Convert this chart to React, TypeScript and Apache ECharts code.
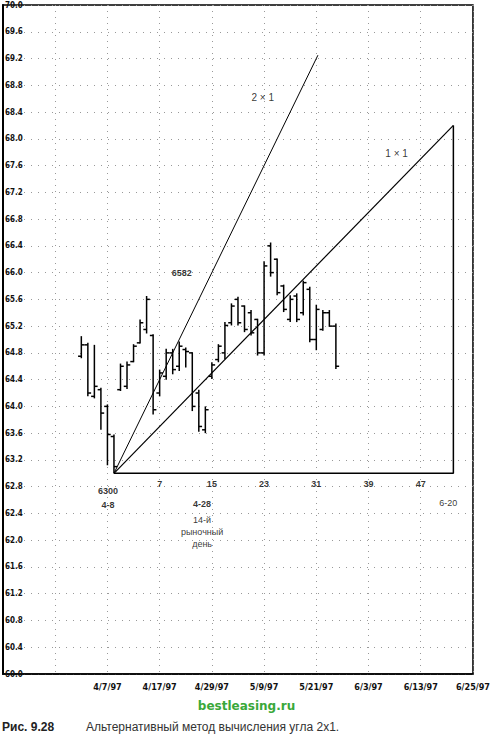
import React, { useEffect, useRef } from 'react';
import * as echarts from 'echarts';

// trading days counted from 4/7/97 (= 0); 4/8/97 (= 1) is the 63.00 low
const tradingDay = [-4, -3, -2, -1, 0, 1, 2, 3, 4, 5, 6, 7, 8, 9, 10, 11, 12, 13, 14, 15, 16, 17, 18, 19, 20, 21, 22, 23, 24, 25, 26, 27, 28, 29, 30, 31, 32, 33, 34, 35];
const openP = [64.75, 64.92, 64.15, 64.25, 64.0, 63.55, 64.25, 64.3, 64.67, 64.95, 65.15, 65.06, 64.2, 64.45, 64.8, 64.6, 64.85, 64.8, 64.2, 63.65, 64.45, 64.7, 64.8, 65.25, 65.6, 65.5, 65.4, 65.3, 64.8, 66.4, 66.2, 65.8, 65.3, 65.65, 65.4, 65.75, 65.0, 65.15, 65.4, 65.2];
const highP = [65.05, 64.95, 64.92, 64.28, 64.03, 63.58, 64.64, 64.67, 64.93, 65.3, 65.65, 65.08, 64.55, 64.86, 64.86, 64.97, 64.88, 64.81, 64.25, 64.0, 64.66, 64.93, 65.26, 65.54, 65.64, 65.51, 65.44, 65.31, 66.17, 66.45, 66.21, 65.82, 65.66, 65.69, 65.88, 65.79, 65.52, 65.44, 65.44, 65.24];
const lowP = [64.72, 64.15, 64.12, 63.65, 63.12, 63.0, 64.23, 64.26, 64.66, 64.94, 65.09, 63.88, 64.15, 64.4, 64.48, 64.53, 64.58, 63.93, 63.62, 63.6, 64.41, 64.66, 64.71, 65.21, 65.21, 65.11, 65.06, 64.76, 64.76, 65.94, 65.66, 65.41, 65.26, 65.26, 65.36, 64.96, 64.84, 65.13, 65.19, 64.56];
const closeP = [64.92, 64.2, 64.3, 63.9, 63.58, 63.1, 64.6, 64.62, 64.9, 65.25, 65.6, 63.95, 64.5, 64.8, 64.55, 64.9, 64.82, 64.0, 63.7, 63.95, 64.62, 64.9, 65.21, 65.5, 65.25, 65.15, 65.1, 64.8, 66.1, 66.0, 65.7, 65.45, 65.6, 65.3, 65.85, 65.0, 65.45, 65.4, 65.2, 64.6];

const dateLabelDays = [0, 8, 16, 24, 32, 40, 48, 56];
const dateLabels = ['4/7/97', '4/17/97', '4/29/97', '5/9/97', '5/21/97', '6/3/97', '6/13/97', '6/25/97'];
const countLabelDays = [8, 16, 24, 32, 40, 48];
const countLabels = ['7', '15', '23', '31', '39', '47'];

const lowDay = 1;
const lowPrice = 63.0;
const endDay1x1 = 53; // 6-20
const end1x1Price = 68.2;
const endDay2x1 = 32.25;
const end2x1Price = 69.25;

const FONT = "'Liberation Sans', Arial, sans-serif";
const NARROW = "'Liberation Sans Narrow', 'DejaVu Sans Condensed', 'Liberation Sans', sans-serif";

export default function App() {
  const ref = useRef<HTMLDivElement>(null);
  useEffect(() => {
    if (!ref.current) return;
    const chart = echarts.init(ref.current, undefined, { renderer: 'svg' });
    const bars = tradingDay.map((d, i) => [d, openP[i], highP[i], lowP[i], closeP[i]]);
    const dateMap: Record<number, string> = {};
    dateLabelDays.forEach((d, i) => (dateMap[d] = dateLabels[i]));

    const txt = (x: number, y: number, text: string, size = 9, weight: any = 'bold', lh = 12) => ({
      value: [x, y],
      label: {
        show: true,
        position: 'inside',
        formatter: text,
        fontSize: size,
        fontWeight: weight,
        fontFamily: FONT,
        color: '#000',
        lineHeight: lh,
      },
    });
    const annotations = [
      txt(23.8, 68.62, '2 × 1', 10, 'normal'),
      txt(44.3, 67.78, '1 × 1', 10, 'normal'),
      txt(11.4, 66.0, '6582', 9, 'bold'),
      txt(0.1, 62.74, '6300', 9, 'bold'),
      txt(0.1, 62.53, '4-8', 9, 'bold'),
      txt(14.5, 62.54, '4-28', 9, 'bold'),
      txt(14.5, 62.12, '14-й\nрыночный\nдень', 9, 'normal', 12),
      txt(52.2, 62.56, '6-20', 9, 'normal'),
      ...countLabelDays.map((d, i) => txt(d, 62.84, countLabels[i], 9, 'bold')),
    ];

    chart.setOption({
      animation: false,
      backgroundColor: '#fff',
      grid: { left: 3, right: 16, top: 5, bottom: 63, show: true, borderColor: '#000', borderWidth: 1.5 },
      xAxis: {
        type: 'value',
        min: -16,
        max: 56,
        interval: 8,
        axisLine: { show: true, onZero: false, lineStyle: { color: '#000', width: 1.5 } },
        axisTick: { show: false },
        splitLine: { show: true, lineStyle: { color: '#999', type: [1, 5], width: 1 } },
        axisLabel: {
          margin: 8,
          fontFamily: NARROW,
          fontWeight: 'bold',
          fontSize: 9,
          color: '#111',
          showMinLabel: true,
          showMaxLabel: true,
          formatter: (v: number) => dateMap[v] ?? '',
        },
      },
      yAxis: {
        type: 'value',
        min: 60,
        max: 70,
        interval: 0.4,
        axisLine: { show: true, onZero: false, lineStyle: { color: '#000', width: 2 } },
        axisTick: { show: false },
        splitLine: { show: true, lineStyle: { color: '#999', type: [1, 6], width: 1 } },
        axisLabel: {
          inside: true,
          margin: 2,
          fontFamily: NARROW,
          fontWeight: 'bold',
          fontSize: 8,
          color: '#111',
          showMinLabel: true,
          showMaxLabel: true,
          formatter: (v: number) => v.toFixed(1),
        },
      },
      series: [
        {
          type: 'custom',
          data: bars,
          encode: { x: 0, y: [1, 2, 3, 4] },
          clip: true,
          renderItem: (params: any, api: any) => {
            const x = api.value(0);
            const pH = api.coord([x, api.value(2)]);
            const pL = api.coord([x, api.value(3)]);
            const pO = api.coord([x, api.value(1)]);
            const pC = api.coord([x, api.value(4)]);
            const w = api.size([1, 0])[0] / 2;
            const st = { stroke: '#000', lineWidth: 1.5 };
            return {
              type: 'group',
              children: [
                { type: 'line', shape: { x1: pH[0], y1: pH[1], x2: pL[0], y2: pL[1] }, style: st },
                { type: 'line', shape: { x1: pO[0] - w, y1: pO[1], x2: pO[0], y2: pO[1] }, style: st },
                { type: 'line', shape: { x1: pC[0], y1: pC[1], x2: pC[0] + w, y2: pC[1] }, style: st },
              ],
            };
          },
        },
        {
          type: 'line',
          name: '2x1',
          data: [[lowDay, lowPrice], [endDay2x1, end2x1Price]],
          symbol: 'none',
          lineStyle: { color: '#000', width: 1 },
        },
        {
          type: 'line',
          name: '1x1',
          data: [[lowDay, lowPrice], [endDay1x1, end1x1Price]],
          symbol: 'none',
          lineStyle: { color: '#000', width: 1.2 },
        },
        {
          type: 'line',
          name: 'base',
          data: [[lowDay, lowPrice], [endDay1x1, lowPrice], [endDay1x1, end1x1Price]],
          symbol: 'none',
          lineStyle: { color: '#000', width: 1.5 },
        },
        {
          type: 'scatter',
          symbolSize: 0,
          data: annotations,
          silent: true,
        },
      ],
      graphic: [
        {
          type: 'text',
          left: 'center',
          top: 700,
          style: { text: 'bestleasing.ru', font: "bold 12px 'DejaVu Sans', sans-serif", fill: '#3aa83a' },
        },
        {
          type: 'text',
          left: 2,
          top: 721,
          style: { text: 'Рис. 9.28', font: "bold 12px 'Liberation Sans', Arial, sans-serif", fill: '#222' },
        },
        {
          type: 'text',
          left: 86,
          top: 721,
          style: { text: 'Альтернативный метод вычисления угла 2x1.', font: "12px 'Liberation Sans', Arial, sans-serif", fill: '#333' },
        },
      ],
    });
    return () => chart.dispose();
  }, []);
  return <div ref={ref} style={{ position: 'absolute', left: 0, top: 0, width: 493, height: 737 }} />;
}
